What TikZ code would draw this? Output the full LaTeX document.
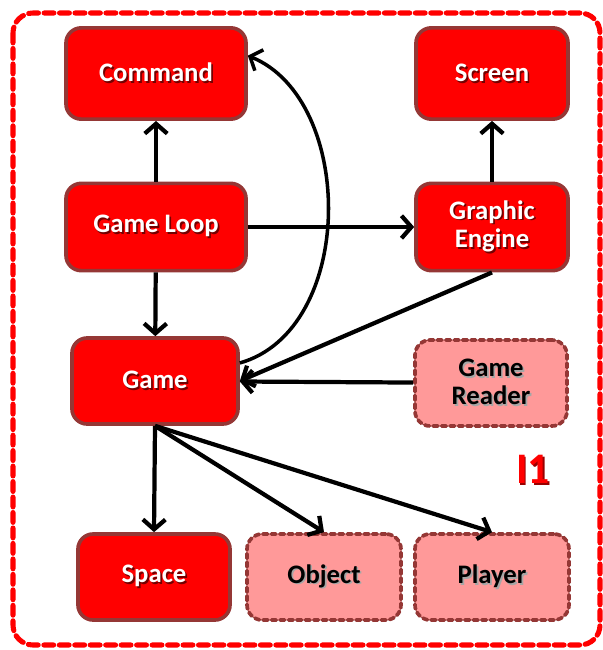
\documentclass[tikz,border=0pt]{standalone}
\usepackage{fontspec}
\setmainfont{Carlito}
\usetikzlibrary{arrows.meta}

\definecolor{boxred}{HTML}{FF0000}
\definecolor{boxline}{HTML}{953735}
\definecolor{boxpink}{HTML}{FF9999}

% text with a soft drop shadow
\newcommand\shtxt[1]{\makebox[0pt][l]{\kern1.2pt\raisebox{-1.2pt}{\textcolor{\shcol}{#1}}}#1}

\begin{document}
\begin{tikzpicture}[
    x=0.025cm, y=-0.025cm,
    module/.style={rectangle,rounded corners=0.38cm,draw=boxline,line width=2.6pt,
      fill=boxred,text=white,align=center,inner sep=0pt,
      font=\fontsize{19pt}{20pt}\selectfont\bfseries\def\shcol{red!45!black}},
    extmodule/.style={module,fill=boxpink,text=black,
      font=\fontsize{19pt}{20pt}\selectfont\bfseries\def\shcol{black!35},
      dash pattern=on 3.5pt off 2.5pt,line cap=round},
    link/.style={line width=3pt,-{Straight Barb[length=7pt,width=16pt]}},
    ]

    \useasboundingbox (0,0) rectangle (603,650);

    % frame:
    \draw [boxred,line width=3.6pt,line cap=round,dash pattern=on 7pt off 4pt,
      rounded corners=0.5cm] (13,13) rectangle (600,645);

    % top row:
    \node (cmd) at (156,73.5) [module,minimum width=4.5cm,minimum height=2.28cm] {\shtxt{Command}};
    \node (screen) at (492,73.5) [module,minimum width=3.8cm,minimum height=2.28cm] {\shtxt{Screen}};

    % second row:
    \node (loop) at (156,227) [module,minimum width=4.5cm,minimum height=2.18cm] {\shtxt{Game Loop}};
    \node (engine) at (492,227) [module,minimum width=3.8cm,minimum height=2.18cm] {\shtxt{Graphic}\\\shtxt{Engine}};

    % third row:
    \node (game) at (155,381) [module,minimum width=4.15cm,minimum height=2.15cm] {\shtxt{Game}};
    \node (reader) at (491,383) [extmodule,minimum width=3.8cm,minimum height=2.15cm] {\shtxt{Game}\\\shtxt{Reader}};

    % bottom row:
    \node (space) at (154,577) [module,minimum width=3.8cm,minimum height=2.15cm] {\shtxt{Space}};
    \node (object) at (324,577) [extmodule,minimum width=3.85cm,minimum height=2.15cm] {\shtxt{Object}};
    \node (player) at (492,577) [extmodule,minimum width=3.85cm,minimum height=2.15cm] {\shtxt{Player}};

    \node (label) at (533,470) [text=boxred,
      font=\fontsize{31pt}{31pt}\selectfont\bfseries\def\shcol{red!60!black}] {\shtxt{I1}};

    \draw [link] (loop) to (cmd);
    \draw [link] (engine) to (screen);
    \draw [link] (loop) to (engine);
    \draw [link] (loop) to (game);
    \draw [link] (engine.south) to (game.east);
    \draw [link] (reader) to (game);
    \draw [link,line width=2.5pt] (game.12) .. controls (356,330) and (356,100) .. (cmd.11);

    \foreach \m in {space,object,player}
      \draw [link] (game.south) to (\m.north);

  \end{tikzpicture}
\end{document}
